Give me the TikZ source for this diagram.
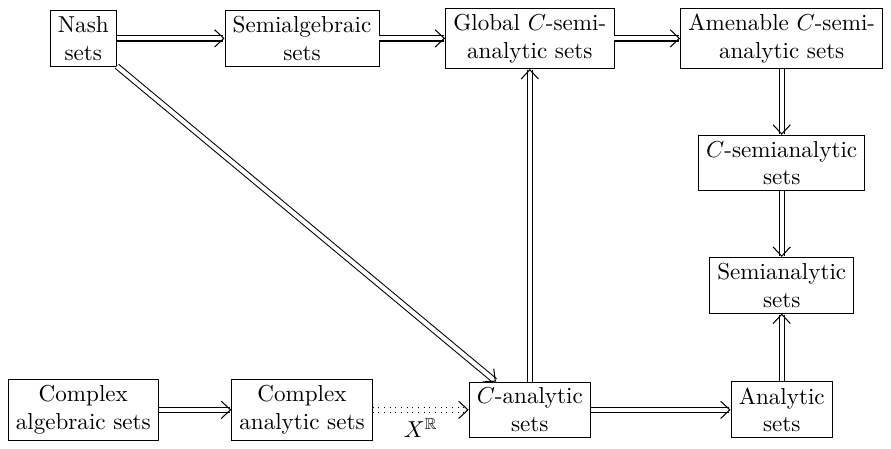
\documentclass[tikz,border=0pt]{standalone}
\usepackage{amssymb}
\usetikzlibrary{matrix,arrows.meta}
\tikzset{
  setbox/.style={draw, align=center, inner xsep=3.33pt, inner ysep=2.5pt, line width=0.4pt},
  impl/.style={double, double distance=1.8pt, line width=0.45pt, -{Straight Barb[length=4pt,width=7.5pt]}},
  impldot/.style={impl, dotted},
}
\begin{document}
\begin{tikzpicture}
\matrix[row sep=1cm, column sep=1cm] {
  \node[setbox] (nash) {Nash\\sets}; &
  \node[setbox] (semialg) {Semialgebraic\\sets}; &
  \node[setbox] (global) {Global $C$-semi-\\analytic sets}; &
  \node[setbox] (amen) {Amenable $C$-semi-\\analytic sets}; \\
  & & & \node[setbox] (csemi) {$C$-semianalytic\\sets}; \\
  & & & \node[setbox] (semian) {Semianalytic\\sets}; \\
  \node[setbox] (calg) {Complex\\algebraic sets}; &
  \node[setbox] (can) {Complex\\analytic sets}; &
  \node[setbox] (cana) {$C$-analytic\\sets}; &
  \node[setbox] (ana) {Analytic\\sets}; \\
};
\draw[impl] (nash) -- (semialg);
\draw[impl] (semialg) -- (global);
\draw[impl] (global) -- (amen);
\draw[impl] (amen) -- (csemi);
\draw[impl] (csemi) -- (semian);
\draw[impl] (ana) -- (semian);
\draw[impl] (cana) -- (global);
\draw[impl] (nash) -- (cana);
\draw[impl] (calg) -- (can);
\draw[impldot] (can) -- node[below] {$X^{\mathbb{R}}$} (cana);
\draw[impl] (cana) -- (ana);
\end{tikzpicture}
\end{document}
